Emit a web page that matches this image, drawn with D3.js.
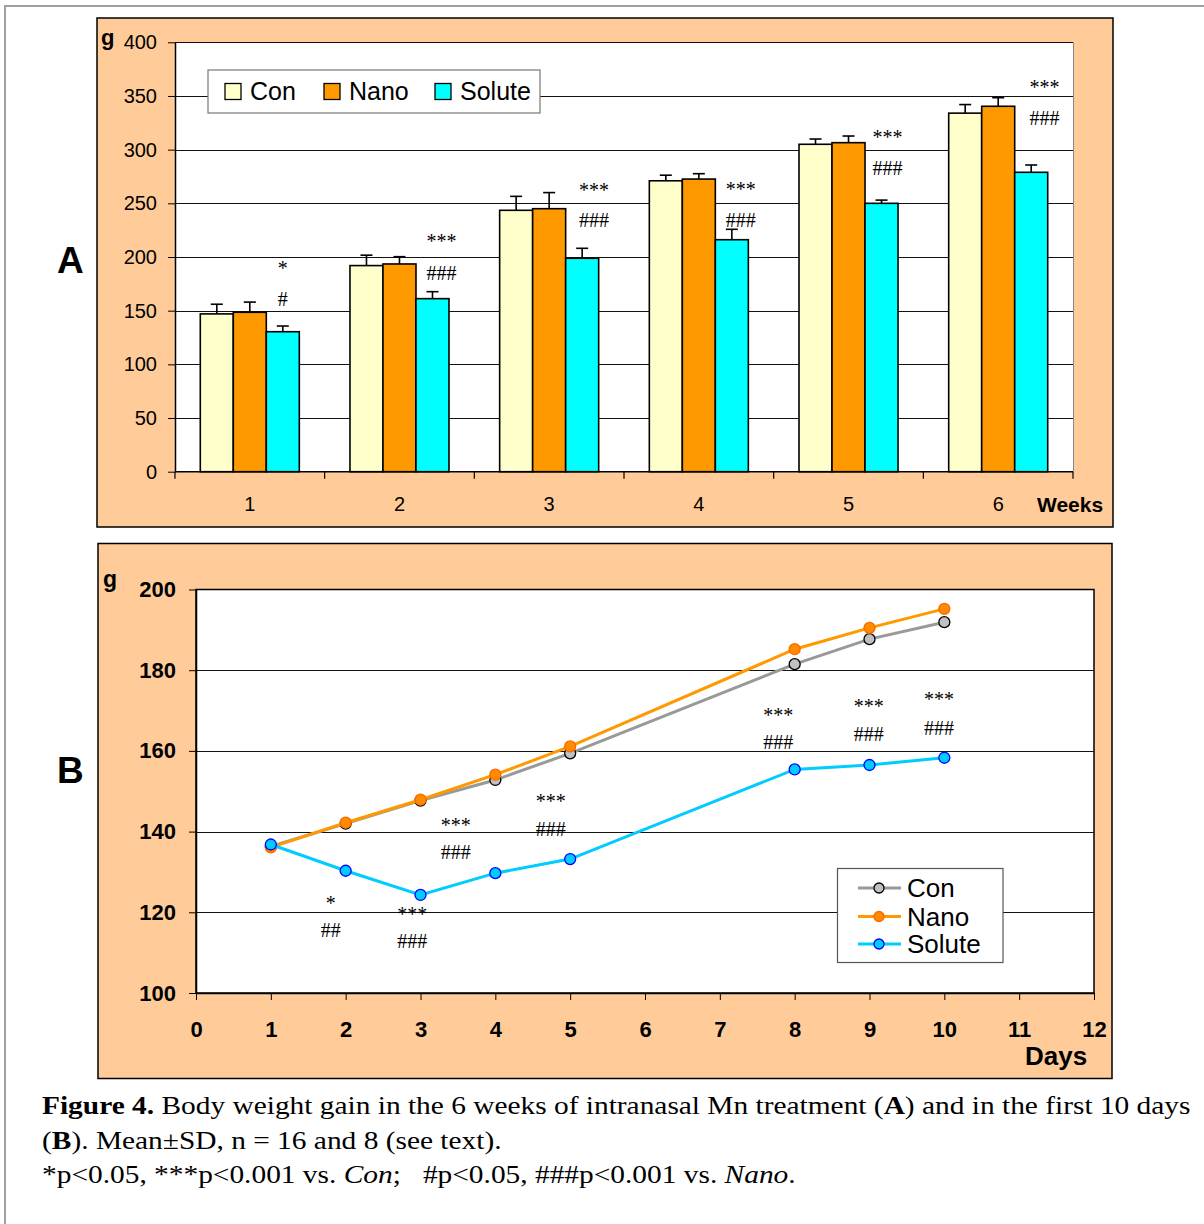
<!DOCTYPE html>
<html>
<head>
<meta charset="utf-8">
<script src="https://cdn.jsdelivr.net/npm/d3@7"></script>
<style>
  html, body { margin: 0; padding: 0; background: #fff; }
  svg { display: block; }
</style>
</head>
<body>
<svg id="fig" width="1204" height="1224"></svg>
<script>
// ---- Panel A: weekly body weight (g), mean and SD ----
const weeks = [1, 2, 3, 4, 5, 6];
const groupNames = ["Con", "Nano", "Solute"];
const conMean    = [147.0, 192.0, 243.5, 271.0, 305.0, 334.0];
const conSD      = [9.0, 9.7, 13.0, 5.2, 4.9, 8.0];
const nanoMean   = [148.5, 193.5, 245.0, 272.6, 306.5, 340.4];
const nanoSD     = [9.5, 6.8, 15.0, 5.0, 6.2, 8.0];
const soluteMean = [130.4, 161.2, 198.8, 216.1, 250.0, 278.9];
const soluteSD   = [5.3, 6.5, 9.3, 9.7, 3.0, 6.8];
const yTicksA = [0, 50, 100, 150, 200, 250, 300, 350, 400];

// significance marks beside the Solute bars (week position, level in g)
const marksA = [
  { week: 1.22, star: "*",   starAt: 192.5, hash: "#",   hashAt: 160.9 },
  { week: 2.28, star: "***", starAt: 217.4, hash: "###", hashAt: 185.4 },
  { week: 3.30, star: "***", starAt: 265.5, hash: "###", hashAt: 234.5 },
  { week: 4.28, star: "***", starAt: 266.1, hash: "###", hashAt: 234.5 },
  { week: 5.26, star: "***", starAt: 314.3, hash: "###", hashAt: 282.6 },
  { week: 6.31, star: "***", starAt: 360.9, hash: "###", hashAt: 329.2 }
];

// ---- Panel B: daily body weight (g) over the first 10 days ----
const days    = [1, 2, 3, 4, 5, 8, 9, 10];
const conB    = [136.3, 142.0, 147.7, 152.8, 159.4, 181.5, 187.7, 191.9];
const nanoB   = [136.1, 142.2, 147.9, 154.1, 161.1, 185.2, 190.5, 195.2];
const soluteB = [136.8, 130.3, 124.3, 129.7, 133.2, 155.4, 156.5, 158.3];
const xTicksB = [0, 1, 2, 3, 4, 5, 6, 7, 8, 9, 10, 11, 12];
const yTicksB = [100, 120, 140, 160, 180, 200];

const marksB = [
  { day: 1.80, star: "*",   starAt: 123.0, hash: "##",  hashAt: 115.6 },
  { day: 2.89, star: "***", starAt: 120.4, hash: "###", hashAt: 113.0 },
  { day: 3.47, star: "***", starAt: 142.3, hash: "###", hashAt: 134.9 },
  { day: 4.74, star: "***", starAt: 148.4, hash: "###", hashAt: 140.6 },
  { day: 7.78, star: "***", starAt: 169.6, hash: "###", hashAt: 162.1 },
  { day: 8.99, star: "***", starAt: 171.8, hash: "###", hashAt: 164.1 },
  { day: 9.93, star: "***", starAt: 173.5, hash: "###", hashAt: 165.7 }
];

// ---- styling ----
const SANS = "'Liberation Sans', Arial, sans-serif";
const SERIF = "'Liberation Serif', 'Times New Roman', serif";
const PEACH = "#FFCC99";
const barFill = { Con: "#FFFFCC", Nano: "#FF9900", Solute: "#00FFFF" };
const lineStyle = {
  Con:    { stroke: "#999999", fill: "#C0C0C0", edge: "#000000" },
  Nano:   { stroke: "#FF9900", fill: "#FF8C00", edge: "#FF6600" },
  Solute: { stroke: "#00CCFF", fill: "#00CCFF", edge: "#0000FF" }
};

const svg = d3.select("#fig");

// outer figure frame
svg.append("path")
  .attr("d", "M5,1224 V6 H1204")
  .attr("fill", "none").attr("stroke", "#A0A0A0").attr("stroke-width", 2);

// marks drawn in Times: shift baseline so the glyph sits centred on its level
function drawMark(g, x, yStar, yHash, m) {
  g.append("text").attr("x", x).attr("y", yStar + 10)
    .attr("text-anchor", "middle").attr("font-family", SERIF).attr("font-size", 20)
    .attr("fill", "#000").text(m.star);
  g.append("text").attr("x", x).attr("y", yHash + 7)
    .attr("text-anchor", "middle").attr("font-family", SERIF).attr("font-size", 20)
    .attr("fill", "#000").text(m.hash);
}

/* ================= Panel A ================= */
{
  const g = svg.append("g");
  g.append("rect").attr("x", 97).attr("y", 18).attr("width", 1016).attr("height", 509)
    .attr("fill", PEACH).attr("stroke", "#000").attr("stroke-width", 1.5);

  const L = 175, R = 1073, T = 42.3, B = 471.7;
  g.append("rect").attr("x", L).attr("y", T).attr("width", R - L).attr("height", B - T)
    .attr("fill", "#fff");

  const y = d3.scaleLinear().domain([0, 400]).range([B, T]);
  const x0 = d3.scaleBand().domain(weeks).range([L, R]).paddingInner(0.3385).paddingOuter(0.169);
  const x1 = d3.scaleBand().domain(groupNames).range([0, x0.bandwidth()]);
  // continuous week position, anchored on the group centres
  const weekPos = d3.scaleLinear().domain([1, 6])
    .range([x0(1) + x0.bandwidth() / 2, x0(6) + x0.bandwidth() / 2]);

  // gridlines
  g.append("g").selectAll("line").data(yTicksA.filter(v => v > 0)).join("line")
    .attr("x1", L).attr("x2", R)
    .attr("y1", d => Math.round(y(d)) + 0.5).attr("y2", d => Math.round(y(d)) + 0.5)
    .attr("stroke", "#111").attr("stroke-width", 1);
  // right edge of plot area
  g.append("line").attr("x1", R + 0.5).attr("x2", R + 0.5).attr("y1", T).attr("y2", B)
    .attr("stroke", "#888");

  // legend (sits over the 350 gridline)
  const leg = g.append("g");
  leg.append("rect").attr("x", 208).attr("y", 70).attr("width", 332).attr("height", 43)
    .attr("fill", "#fff").attr("stroke", "#777").attr("stroke-width", 1.2);
  const legX = [225, 324, 435];
  groupNames.forEach((n, i) => {
    leg.append("rect").attr("x", legX[i]).attr("y", 83.5).attr("width", 16).attr("height", 16)
      .attr("fill", barFill[n]).attr("stroke", "#000").attr("stroke-width", 1.3);
    leg.append("text").attr("x", legX[i] + 25).attr("y", 100).attr("font-family", SANS)
      .attr("font-size", 25).attr("fill", "#000").text(n);
  });

  // bars
  const series = { Con: [conMean, conSD], Nano: [nanoMean, nanoSD], Solute: [soluteMean, soluteSD] };
  const rows = [];
  weeks.forEach((w, i) => groupNames.forEach(n => rows.push({ w, n, m: series[n][0][i], sd: series[n][1][i] })));

  g.append("g").selectAll("rect").data(rows).join("rect")
    .attr("x", d => x0(d.w) + x1(d.n))
    .attr("y", d => y(d.m))
    .attr("width", x1.bandwidth())
    .attr("height", d => B - y(d.m))
    .attr("fill", d => barFill[d.n])
    .attr("stroke", "#000").attr("stroke-width", 1.6);

  // error bars (upper half)
  const eb = g.append("g").attr("stroke", "#000").attr("stroke-width", 1.6);
  rows.forEach(d => {
    const cx = x0(d.w) + x1(d.n) + x1.bandwidth() / 2;
    eb.append("line").attr("x1", cx).attr("x2", cx).attr("y1", y(d.m)).attr("y2", y(d.m + d.sd));
    eb.append("line").attr("x1", cx - 6).attr("x2", cx + 6).attr("y1", y(d.m + d.sd)).attr("y2", y(d.m + d.sd));
  });

  // y axis
  const ya = g.append("g").attr("transform", `translate(${L},0)`)
    .call(d3.axisLeft(y).tickValues(yTicksA).tickSize(7).tickPadding(11).tickSizeOuter(0));
  ya.select(".domain").attr("stroke", "#000").attr("stroke-width", 1.5);
  ya.selectAll(".tick line").attr("stroke", "#000");
  ya.selectAll("text").attr("font-family", SANS).attr("font-size", 20).attr("fill", "#000");

  // x axis: line, boundary ticks, centred week labels
  g.append("line").attr("x1", L).attr("x2", R).attr("y1", B).attr("y2", B)
    .attr("stroke", "#000").attr("stroke-width", 1.5);
  const step = x0.step();
  const bounds = weeks.map(w => x0(w) - step * x0.paddingInner() / 2).concat([R]);
  g.append("g").selectAll("line").data(bounds).join("line")
    .attr("x1", d => d).attr("x2", d => d).attr("y1", B).attr("y2", B + 7)
    .attr("stroke", "#000").attr("stroke-width", 1.2);
  const xa = g.append("g").attr("transform", `translate(0,${B})`)
    .call(d3.axisBottom(x0).tickSize(0).tickPadding(25));
  xa.select(".domain").remove();
  xa.selectAll("text").attr("font-family", SANS).attr("font-size", 20).attr("fill", "#000");

  g.append("text").attr("x", 1037).attr("y", 512).attr("font-family", SANS)
    .attr("font-weight", "bold").attr("font-size", 21).text("Weeks");
  g.append("text").attr("x", 101).attr("y", 45).attr("font-family", SANS)
    .attr("font-weight", "bold").attr("font-size", 22).text("g");

  // significance marks
  marksA.forEach(m => drawMark(g, weekPos(m.week), y(m.starAt), y(m.hashAt), m));

  svg.append("text").attr("x", 57).attr("y", 273).attr("font-family", SANS)
    .attr("font-weight", "bold").attr("font-size", 37).text("A");
}

/* ================= Panel B ================= */
{
  const g = svg.append("g");
  g.append("rect").attr("x", 98).attr("y", 543.5).attr("width", 1014).attr("height", 535)
    .attr("fill", PEACH).attr("stroke", "#000").attr("stroke-width", 1.5);

  const L = 196, R = 1094, T = 589.5, B = 993;
  g.append("rect").attr("x", L).attr("y", T).attr("width", R - L).attr("height", B - T)
    .attr("fill", "#fff").attr("stroke", "#000").attr("stroke-width", 1.5);

  const x = d3.scaleLinear().domain([0, 12]).range([L, R]);
  const y = d3.scaleLinear().domain([100, 200]).range([B, T]);

  g.append("g").selectAll("line").data(yTicksB.filter(v => v > 100 && v < 200)).join("line")
    .attr("x1", L).attr("x2", R)
    .attr("y1", d => Math.round(y(d)) + 0.5).attr("y2", d => Math.round(y(d)) + 0.5)
    .attr("stroke", "#111").attr("stroke-width", 1);

  const ya = g.append("g").attr("transform", `translate(${L},0)`)
    .call(d3.axisLeft(y).tickValues(yTicksB).tickSize(7).tickPadding(13).tickSizeOuter(0));
  ya.select(".domain").attr("stroke", "#000").attr("stroke-width", 1.5);
  ya.selectAll(".tick line").attr("stroke", "#000");
  ya.selectAll("text").attr("font-family", SANS).attr("font-weight", "bold")
    .attr("font-size", 22).attr("fill", "#000");

  const xa = g.append("g").attr("transform", `translate(0,${B})`)
    .call(d3.axisBottom(x).tickValues(xTicksB).tickSize(7).tickPadding(21).tickSizeOuter(0));
  xa.select(".domain").attr("stroke", "#000").attr("stroke-width", 1.5);
  xa.selectAll(".tick line").attr("stroke", "#000");
  xa.selectAll("text").attr("font-family", SANS).attr("font-weight", "bold")
    .attr("font-size", 22).attr("fill", "#000");

  g.append("text").attr("x", 1025).attr("y", 1065).attr("font-family", SANS)
    .attr("font-weight", "bold").attr("font-size", 26).text("Days");
  g.append("text").attr("x", 103).attr("y", 587).attr("font-family", SANS)
    .attr("font-weight", "bold").attr("font-size", 23).text("g");

  // series lines with markers
  const seriesB = [["Con", conB], ["Nano", nanoB], ["Solute", soluteB]];
  const line = d3.line().x((d, i) => x(days[i])).y(d => y(d));
  seriesB.forEach(([n, vals]) => {
    const s = lineStyle[n];
    g.append("path").datum(vals).attr("d", line)
      .attr("fill", "none").attr("stroke", s.stroke).attr("stroke-width", 3);
    g.append("g").selectAll("circle").data(vals).join("circle")
      .attr("cx", (d, i) => x(days[i])).attr("cy", d => y(d)).attr("r", 5.5)
      .attr("fill", s.fill).attr("stroke", s.edge).attr("stroke-width", 1.3);
  });

  marksB.forEach(m => drawMark(g, x(m.day), y(m.starAt), y(m.hashAt), m));

  // legend
  const leg = g.append("g");
  leg.append("rect").attr("x", 837.5).attr("y", 868.5).attr("width", 165.5).attr("height", 94)
    .attr("fill", "#fff").attr("stroke", "#555").attr("stroke-width", 1.2);
  const legY = [888, 916.5, 944];
  seriesB.forEach(([n], i) => {
    const s = lineStyle[n];
    leg.append("line").attr("x1", 858).attr("x2", 901).attr("y1", legY[i]).attr("y2", legY[i])
      .attr("stroke", s.stroke).attr("stroke-width", 3);
    leg.append("circle").attr("cx", 879).attr("cy", legY[i]).attr("r", 5)
      .attr("fill", s.fill).attr("stroke", s.edge).attr("stroke-width", 1.3);
    leg.append("text").attr("x", 907).attr("y", legY[i] + 9).attr("font-family", SANS)
      .attr("font-size", 26).attr("fill", "#000").text(n);
  });

  svg.append("text").attr("x", 57).attr("y", 783).attr("font-family", SANS)
    .attr("font-weight", "bold").attr("font-size", 37).text("B");
}

/* ================= Caption ================= */
{
  // caption set in a slightly wide Times face
  const c = svg.append("g")
    .attr("transform", "translate(42,0) scale(1.2,1)")
    .attr("font-family", SERIF).attr("font-size", 24.5).attr("fill", "#000");
  const l1 = c.append("text").attr("x", 0).attr("y", 1114);
  l1.append("tspan").attr("font-weight", "bold").text("Figure 4.");
  l1.append("tspan").text(" Body weight gain in the 6 weeks of intranasal Mn treatment (");
  l1.append("tspan").attr("font-weight", "bold").text("A");
  l1.append("tspan").text(") and in the first 10 days");

  const l2 = c.append("text").attr("x", 0).attr("y", 1149);
  l2.append("tspan").text("(");
  l2.append("tspan").attr("font-weight", "bold").text("B");
  l2.append("tspan").text("). Mean\u00B1SD, n = 16 and 8 (see text).");

  const l3 = c.append("text").attr("x", 0).attr("y", 1183);
  l3.append("tspan").text("*p<0.05, ***p<0.001 vs. ");
  l3.append("tspan").attr("font-style", "italic").text("Con");
  l3.append("tspan").text(";\u00A0\u00A0 #p<0.05, ###p<0.001 vs. ");
  l3.append("tspan").attr("font-style", "italic").text("Nano");
  l3.append("tspan").text(".");
}
</script>
</body>
</html>
